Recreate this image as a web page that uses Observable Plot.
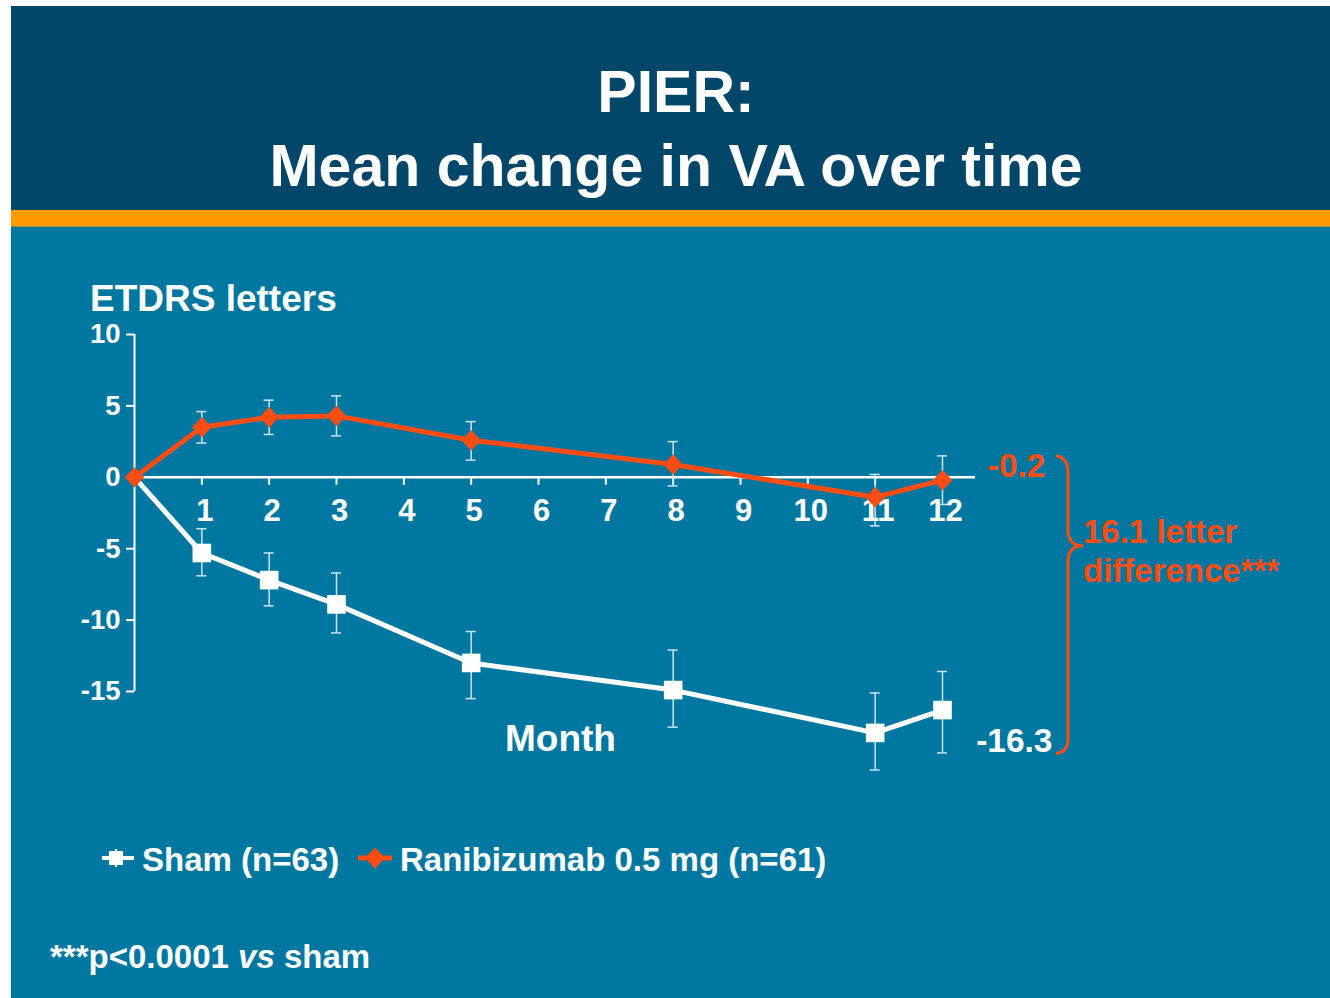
<!DOCTYPE html>
<html>
<head>
<meta charset="utf-8">
<script src="https://cdn.jsdelivr.net/npm/d3@7"></script>
<script src="https://cdn.jsdelivr.net/npm/@observablehq/plot@0.6"></script>
<style>
  body { margin: 0; background: #ffffff; font-family: "Liberation Sans", Arial, sans-serif; }
  #slide { position: relative; width: 1330px; height: 998px; overflow: hidden; background: #ffffff; }
  #header { position: absolute; left: 11px; top: 6px; width: 1319px; height: 204px; background: #02466A; }
  #band { position: absolute; left: 11px; top: 210px; width: 1319px; height: 16px; background: #FF9A00; border-bottom: 1px solid #A58B3C; }
  #body { position: absolute; left: 11px; top: 227px; width: 1319px; height: 771px; background: #0077A0; }
  #chart { position: absolute; left: 11px; top: 227px; }
  .t { position: absolute; font-weight: bold; color: #ffffff; white-space: nowrap; line-height: 1; }
  .c { transform: translateX(-50%); }
  .o { color: #FF4D14; }
  .leg { position: absolute; }
</style>
</head>
<body>
<div id="slide">
  <div id="header"></div>
  <div id="band"></div>
  <div id="body"></div>
  <div class="t c" style="left:676px; top:63px; font-size:59px;">PIER:</div>
  <div class="t c" style="left:676px; top:137px; font-size:59px;">Mean change in VA over time</div>
  <div class="t" style="left:90px; top:280px; font-size:37px;">ETDRS letters</div>
  <div id="chart"></div>
  <div class="t" style="left:505px; top:720px; font-size:37px;">Month</div>
  <div class="t o" style="left:1083px; top:515px; font-size:33px;">16.1 letter</div>
  <div class="t o" style="left:1083px; top:554px; font-size:33px;">difference***</div>
  <svg class="leg" style="left:98px; top:844px;" width="40" height="30">
    <line x1="4" x2="36" y1="14" y2="14" stroke="#ffffff" stroke-width="4"></line>
    <line x1="18" x2="18" y1="5" y2="23" stroke="#ffffff" stroke-width="2"></line>
    <rect x="11" y="7" width="14" height="14" fill="#ffffff"></rect>
  </svg>
  <div class="t" style="left:142px; top:843px; font-size:33px;">Sham (n=63)</div>
  <svg class="leg" style="left:356px; top:845px;" width="40" height="26">
    <line x1="2" x2="36" y1="13" y2="13" stroke="#FF4D14" stroke-width="5"></line>
    <path d="M19,2.5 L29,13 L19,23.5 L9,13 Z" fill="#FF4D14"></path>
  </svg>
  <div class="t" style="left:400px; top:843px; font-size:33px;">Ranibizumab 0.5 mg (n=61)</div>
  <div class="t" style="left:50px; top:940px; font-size:33px;">***p&lt;0.0001 <i>vs</i> sham</div>
</div>
<script>
// ---- data ----
const months = [0, 1, 2, 3, 5, 8, 11, 12];
const ranibizumab   = [0, 3.5, 4.2, 4.3, 2.6, 0.9, -1.4, -0.2];
const ranibizumabHi = [null, 4.6, 5.4, 5.7, 3.9, 2.5, 0.2, 1.5];
const ranibizumabLo = [null, 2.4, 3.0, 2.9, 1.2, -0.6, -3.4, -1.9];
const sham   = [0, -5.3, -7.2, -8.9, -13.0, -14.9, -17.9, -16.3];
const shamHi = [null, -3.6, -5.3, -6.7, -10.8, -12.1, -15.1, -13.6];
const shamLo = [null, -6.9, -9.0, -10.9, -15.5, -17.5, -20.5, -19.3];
const monthTicks = [1, 2, 3, 4, 5, 6, 7, 8, 9, 10, 11, 12];
const yTicks = [10, 5, 0, -5, -10, -15];
const endLabels = [{series: "ranibizumab", value: -0.2, text: "-0.2"}, {series: "sham", value: -16.3, text: "-16.3"}];

const ORANGE = "#FF4D14";
const ERR = "#C9E6EE";

const rani = months.map((m, i) => ({month: m, value: ranibizumab[i], lo: ranibizumabLo[i], hi: ranibizumabHi[i]}));
const shm = months.map((m, i) => ({month: m, value: sham[i], lo: shamLo[i], hi: shamHi[i]}));
const raniErr = rani.filter(d => d.hi != null);
const shamErr = shm.filter(d => d.hi != null);

const diamond = {
  draw(ctx, size) {
    const s = Math.sqrt(size);
    const w = s * 0.55, h = s * 0.58;
    ctx.moveTo(0, -h); ctx.lineTo(w, 0); ctx.lineTo(0, h); ctx.lineTo(-w, 0); ctx.closePath();
  }
};

function errorMarks(data) {
  return [
    Plot.ruleX(data, {x: "month", y1: "lo", y2: "hi", stroke: ERR, strokeWidth: 1.5}),
    Plot.ruleY(data, {y: "hi", x1: "month", x2: "month", insetLeft: -5, insetRight: -5, stroke: ERR, strokeWidth: 1.5}),
    Plot.ruleY(data, {y: "lo", x1: "month", x2: "month", insetLeft: -5, insetRight: -5, stroke: ERR, strokeWidth: 1.5})
  ];
}

const brace = (index, scales) => {
  const x = scales.x, y = scales.y;
  const xb = x(months[months.length - 1]) + 126;
  const top = y(ranibizumab[ranibizumab.length - 1]) - 25;
  const bot = y(sham[sham.length - 1]) + 44;
  const tip = top + 91;
  const d = `M${xb - 12},${top + 1} Q${xb},${top + 3} ${xb},${top + 17} L${xb},${tip - 16} Q${xb},${tip} ${xb + 15},${tip} Q${xb},${tip} ${xb},${tip + 16} L${xb},${bot - 15} Q${xb},${bot - 1} ${xb - 12},${bot}`;
  return d3.create("svg:path").attr("d", d).attr("fill", "none").attr("stroke", ORANGE).attr("stroke-width", 3).node();
};

const chart = Plot.plot({
  width: 1319,
  height: 560,
  marginLeft: 123,
  marginRight: 355,
  marginTop: 107,
  marginBottom: 96,
  x: {domain: [0, 12.49], axis: null},
  y: {domain: [-15, 10]},
  style: {background: "transparent", color: "#ffffff", fontFamily: "'Liberation Sans', Arial, sans-serif", overflow: "visible"},
  marks: [
    Plot.ruleX([0], {y1: -15, y2: 10, stroke: "#ffffff", strokeWidth: 2}),
    Plot.ruleY([0], {x1: 0, x2: 12.49, stroke: "#ffffff", strokeWidth: 2.5}),
    Plot.axisY({ticks: yTicks, tickFormat: d => String(d), anchor: "left", tickSize: 8, tickPadding: 6, strokeWidth: 2, fontSize: 27.5, fontWeight: "bold", label: null}),
    Plot.ruleX(monthTicks, {x: d => d, y1: 0, y2: 0, insetBottom: -8, stroke: "#ffffff", strokeWidth: 2}),
    Plot.text(monthTicks, {x: d => d, y: 0, text: d => String(d), dy: 34, dx: 3, fontSize: 31, fontWeight: "bold", fill: "#ffffff"}),
    ...errorMarks(shamErr),
    Plot.line(shm, {x: "month", y: "value", stroke: "#ffffff", strokeWidth: 5}),
    Plot.dot(shm.slice(1), {x: "month", y: "value", symbol: "square", r: 10.5, fill: "#ffffff"}),
    ...errorMarks(raniErr),
    Plot.line(rani, {x: "month", y: "value", stroke: ORANGE, strokeWidth: 5}),
    Plot.dot(rani, {x: "month", y: "value", symbol: diamond, r: 10, fill: ORANGE}),
    Plot.text([endLabels[0]], {x: () => months[months.length - 1], y: "value", text: "text", textAnchor: "end", dx: 103, dy: -14, fontSize: 33.5, fontWeight: "bold", fill: ORANGE}),
    Plot.text([endLabels[1]], {x: () => months[months.length - 1], y: "value", text: "text", textAnchor: "end", dx: 110, dy: 31, fontSize: 33.5, fontWeight: "bold", fill: "#ffffff"}),
    brace
  ]
});
document.getElementById("chart").appendChild(chart);
</script>
</body>
</html>
